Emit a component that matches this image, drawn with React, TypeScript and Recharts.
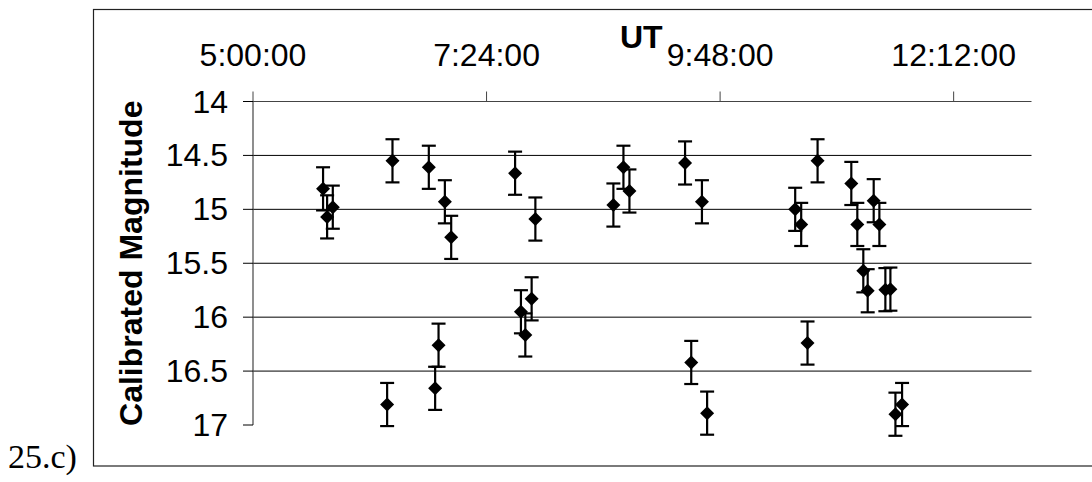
import React from "react";
import {
  ScatterChart,
  Scatter,
  XAxis,
  YAxis,
  CartesianGrid,
  ErrorBar
} from "recharts";

// UT of each observation, in minutes after 0:00
const utMinutes = [
  343.2, 345.7, 349.2, 382.7, 386.0, 408.4, 412.3, 414.4, 418.3, 422.2,
  461.6, 465.2, 467.9, 471.8, 474.1, 522.2, 528.4, 532.1, 566.4, 570.2,
  576.8, 580.0, 634.3, 638.0, 641.9, 648.1, 668.9, 672.6, 676.3, 679.0,
  682.7, 686.2, 689.9, 693.0, 696.1, 700.2
];

const magnitudes = [
  14.81, 15.07, 14.98, 16.81, 14.55, 14.61, 16.66, 16.26, 14.93, 15.26,
  14.665, 15.95, 16.165, 15.83, 15.09, 14.96, 14.61, 14.83, 14.57, 16.42,
  14.93, 16.89, 15.0, 15.14, 16.24, 14.55, 14.76, 15.14, 15.57, 15.755,
  14.92, 15.14, 15.745, 15.74, 16.9, 16.81
];

const magErrors = [
  0.2, 0.2, 0.2, 0.2, 0.2, 0.2, 0.2, 0.2, 0.2, 0.2,
  0.2, 0.2, 0.2, 0.2, 0.2, 0.2, 0.2, 0.2, 0.2, 0.2,
  0.2, 0.2, 0.2, 0.2, 0.2, 0.2, 0.2, 0.2, 0.2, 0.2,
  0.2, 0.2, 0.2, 0.2, 0.2, 0.2
];

const utTicks = [300, 444, 588, 732];
const magTicks = [14, 14.5, 15, 15.5, 16, 16.5, 17];
const magGrid = [14.5, 15, 15.5, 16, 16.5];

const data = utMinutes.map((t, i) => ({
  ut: t,
  mag: magnitudes[i],
  err: magErrors[i]
}));

const FONT = "'Liberation Sans', Arial, sans-serif";

const formatUT = (m: number) => {
  const h = Math.floor(m / 60);
  const mm = Math.round(m % 60);
  return `${h}:${mm < 10 ? "0" + mm : mm}:00`;
};

const UTTick = ({ x, y, payload }: any) => (
  <text x={x} y={y - 25.5} textAnchor="middle" fontFamily={FONT} fontSize={32} fill="#000">
    {formatUT(payload.value)}
  </text>
);

const MagTick = ({ x, y, payload }: any) => (
  <text x={x - 15} y={y + 11} textAnchor="end" fontFamily={FONT} fontSize={32} fill="#000">
    {payload.value}
  </text>
);

// filled diamond marker, roughly square
const Diamond = ({ cx, cy }: any) => {
  const r = 7;
  return (
    <polygon
      points={`${cx},${cy - r} ${cx + r},${cy} ${cx},${cy + r} ${cx - r},${cy}`}
      fill="#000"
    />
  );
};

const UTLabel = ({ viewBox }: any) => {
  const { x, y, width, height } = viewBox;
  const base = y + height;
  return (
    <text x={x + width / 2 - 1} y={base - 53.5} textAnchor="middle" fontFamily={FONT} fontWeight="bold" fontSize={32} fill="#000">
      UT
    </text>
  );
};

const MagLabel = ({ viewBox }: any) => {
  const { x, y, width, height } = viewBox;
  const cx = x + width - 111;
  const cy = y + height / 2;
  return (
    <text
      x={cx}
      y={cy}
      transform={`rotate(-90, ${cx}, ${cy})`}
      textAnchor="middle"
      fontFamily={FONT}
      fontWeight="bold"
      fontSize={32}
      fill="#000"
    >
      Calibrated Magnitude
    </text>
  );
};

const App = () => {
  return (
    <div
      style={{
        position: "fixed",
        left: 0,
        top: 0,
        width: 1092,
        height: 482,
        overflow: "hidden",
        background: "#fff"
      }}
    >
      <svg width={1092} height={482} style={{ position: "absolute", left: 0, top: 0 }}>
        <rect x={93.5} y={9.5} width={1100} height={456.5} fill="none" stroke="#222" strokeWidth={1.2} />
        <text x={8} y={468} fontFamily="'Liberation Serif', 'Times New Roman', serif" fontSize={34} fill="#000">
          25.c)
        </text>
      </svg>
      <div style={{ position: "absolute", left: 0, top: 0 }}>
        <ScatterChart
          width={1092}
          height={482}
          margin={{ top: 0, right: 60.5, bottom: 57, left: 0 }}
        >
          <CartesianGrid
            vertical={false}
            horizontalValues={magGrid}
            stroke="#000"
            strokeWidth={1}
          />
          <XAxis
            type="number"
            dataKey="ut"
            orientation="top"
            domain={[300, 780]}
            allowDataOverflow
            ticks={utTicks}
            height={101.5}
            tickSize={10}
            tickMargin={0}
            tick={<UTTick />}
            axisLine={{ stroke: "#444", strokeWidth: 1.2 }}
            tickLine={{ stroke: "#444", strokeWidth: 1 }}
            label={<UTLabel />}
          />
          <YAxis
            type="number"
            dataKey="mag"
            domain={[14, 17]}
            allowDataOverflow
            reversed
            ticks={magTicks}
            width={253}
            tickSize={10}
            tickMargin={0}
            tick={<MagTick />}
            axisLine={{ stroke: "#444", strokeWidth: 1.2 }}
            tickLine={{ stroke: "#000", strokeWidth: 1 }}
            label={<MagLabel />}
          />
          <Scatter data={data} shape={<Diamond />} isAnimationActive={false}>
            <ErrorBar
              dataKey="err"
              direction="y"
              width={7}
              stroke="#000"
              strokeWidth={2.2}
              isAnimationActive={false}
            />
          </Scatter>
        </ScatterChart>
      </div>
    </div>
  );
};

export default App;
